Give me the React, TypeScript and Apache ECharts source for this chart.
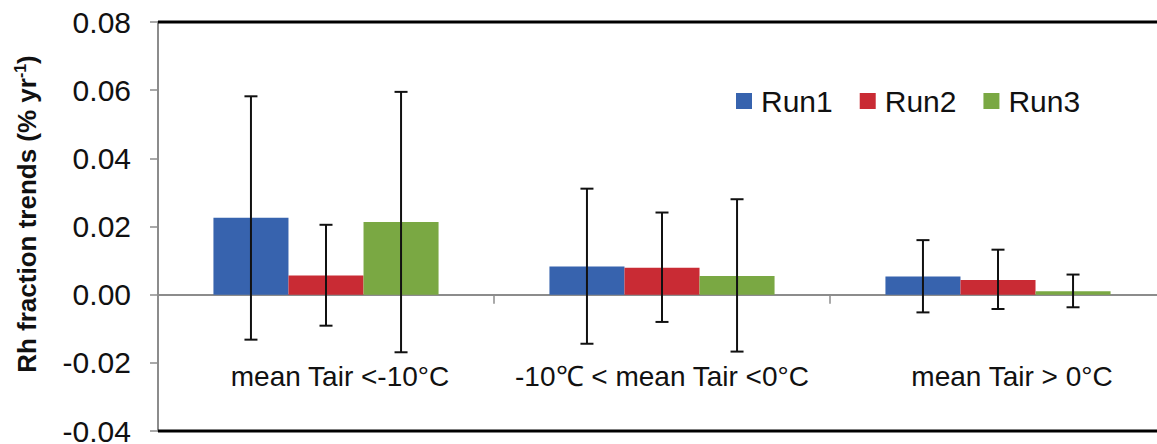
import React, { useEffect, useRef } from "react";
import * as echarts from "echarts";

const categories = ["mean Tair <-10°C", "-10℃ < mean Tair <0°C", "mean Tair > 0°C"];
const seriesNames = ["Run1", "Run2", "Run3"];
const run1 = [0.0226, 0.0083, 0.0053];
const run2 = [0.0056, 0.0079, 0.0043];
const run3 = [0.0213, 0.0055, 0.001];
const run1Low = [-0.0132, -0.0144, -0.0052];
const run1High = [0.0582, 0.0311, 0.016];
const run2Low = [-0.0091, -0.008, -0.0042];
const run2High = [0.0205, 0.0241, 0.0132];
const run3Low = [-0.0169, -0.0167, -0.0037];
const run3High = [0.0595, 0.028, 0.0059];
const yTicks = { min: -0.04, max: 0.08, interval: 0.02 };

const colors = ["#3763AE", "#C92B34", "#7AA843"];
const FONT = "Liberation Sans, Arial, sans-serif";
const CAT_GAP = 0.33;

export default function App() {
  const ref = useRef<HTMLDivElement>(null);
  useEffect(() => {
    if (!ref.current) return;
    const chart = echarts.init(ref.current, undefined, { renderer: "svg" });
    const values = [run1, run2, run3];
    const lows = [run1Low, run2Low, run3Low];
    const highs = [run1High, run2High, run3High];

    const barSeries: any[] = seriesNames.map((name, i) => ({
      name,
      type: "bar",
      data: values[i],
      barGap: "0%",
      barCategoryGap: CAT_GAP * 100 + "%",
      itemStyle: { color: colors[i] },
      z: 2,
    }));

    const errSeries = seriesNames.map((name, i) => ({
      name: name + " error",
      type: "custom",
      z: 5,
      data: categories.map((_, c) => [c, lows[i][c], highs[i][c]]),
      renderItem: (params: any, api: any) => {
        const idx = api.value(0);
        const lo = api.coord([idx, api.value(1)]);
        const hi = api.coord([idx, api.value(2)]);
        const band = api.size([1, 0])[0];
        const bw = (band * (1 - CAT_GAP)) / 3;
        const x = lo[0] + (i - 1) * bw;
        const cap = 6.5;
        const style = { stroke: "#111", lineWidth: 2 };
        return {
          type: "group",
          children: [
            { type: "line", shape: { x1: x, y1: lo[1], x2: x, y2: hi[1] }, style },
            { type: "line", shape: { x1: x - cap, y1: lo[1], x2: x + cap, y2: lo[1] }, style },
            { type: "line", shape: { x1: x - cap, y1: hi[1], x2: x + cap, y2: hi[1] }, style },
          ],
        };
      },
    }));

    chart.setOption({
      animation: false,
      backgroundColor: "#ffffff",
      grid: {
        left: 158,
        top: 22,
        bottom: 13,
        right: -9,
        containLabel: false,
        outerBoundsMode: "none",
        show: false,
      },
      legend: {
        data: seriesNames,
        left: 731,
        top: 81,
        icon: "rect",
        itemWidth: 16,
        itemHeight: 16,
        itemGap: 27,
        textStyle: { fontFamily: FONT, fontSize: 30, color: "#111", padding: [0, 0, 0, 4] },
      },
      xAxis: {
        type: "category",
        data: categories,
        axisLine: { onZero: true, lineStyle: { color: "#8c8c8c", width: 2 } },
        axisTick: { show: true, length: 9, lineStyle: { color: "#8c8c8c", width: 1.5 } },
        axisLabel: {
          interval: 0,
          margin: -69,
          fontFamily: FONT,
          fontSize: 28,
          color: "#111",
          formatter: (v: string, i: number) => (i === 1 ? "{n|" + v + "}" : "{o|" + v + "}"),
          rich: {
            n: { fontFamily: FONT, fontSize: 28, color: "#111" },
            o: { fontFamily: FONT, fontSize: 28, color: "#111", padding: [0, 0, 0, 28] },
          },
        },
        splitLine: { show: false },
      },
      yAxis: {
        type: "value",
        min: yTicks.min,
        max: yTicks.max,
        interval: yTicks.interval,
        axisLine: { show: true, lineStyle: { color: "#8c8c8c", width: 2 } },
        axisTick: { show: true, length: 8, lineStyle: { color: "#8c8c8c", width: 1.5 } },
        axisLabel: {
          margin: 27,
          fontFamily: FONT,
          fontSize: 30,
          color: "#111",
          formatter: (v: number) => v.toFixed(2),
        },
        splitLine: { show: false },
      },
      series: [...barSeries, ...errSeries],
    });

    const yTop = chart.convertToPixel({ yAxisIndex: 0 }, yTicks.max) as number;
    const yBot = chart.convertToPixel({ yAxisIndex: 0 }, yTicks.min) as number;
    const xRight = chart.getWidth();
    const xStart = 158;
    const borderStyle = { stroke: "#000000", lineWidth: 3 };
    chart.setOption({
      graphic: [
        {
          type: "line",
          z: 100,
          shape: { x1: xStart, y1: yTop, x2: xRight, y2: yTop },
          style: borderStyle,
        },
        {
          type: "line",
          z: 100,
          shape: { x1: xStart, y1: yBot, x2: xRight, y2: yBot },
          style: borderStyle,
        },
        {
          type: "text",
          x: 27,
          y: 214,
          rotation: Math.PI / 2,
          style: {
            text: "{a|Rh fraction trends (% yr}{s|-1}{a|)}",
            align: "center",
            verticalAlign: "middle",
            fill: "#111",
            rich: {
              a: { fontFamily: FONT, fontSize: 26, fontWeight: "bold", lineHeight: 30, fill: "#111" },
              s: { fontFamily: FONT, fontSize: 16, fontWeight: "bold", verticalAlign: "top", lineHeight: 30, fill: "#111" },
            },
          },
        },
      ],
    });
    return () => chart.dispose();
  }, []);
  return (
    <div
      ref={ref}
      style={{ position: "fixed", left: 0, top: 0, width: 1157, height: 444, background: "#fff" }}
    />
  );
}
